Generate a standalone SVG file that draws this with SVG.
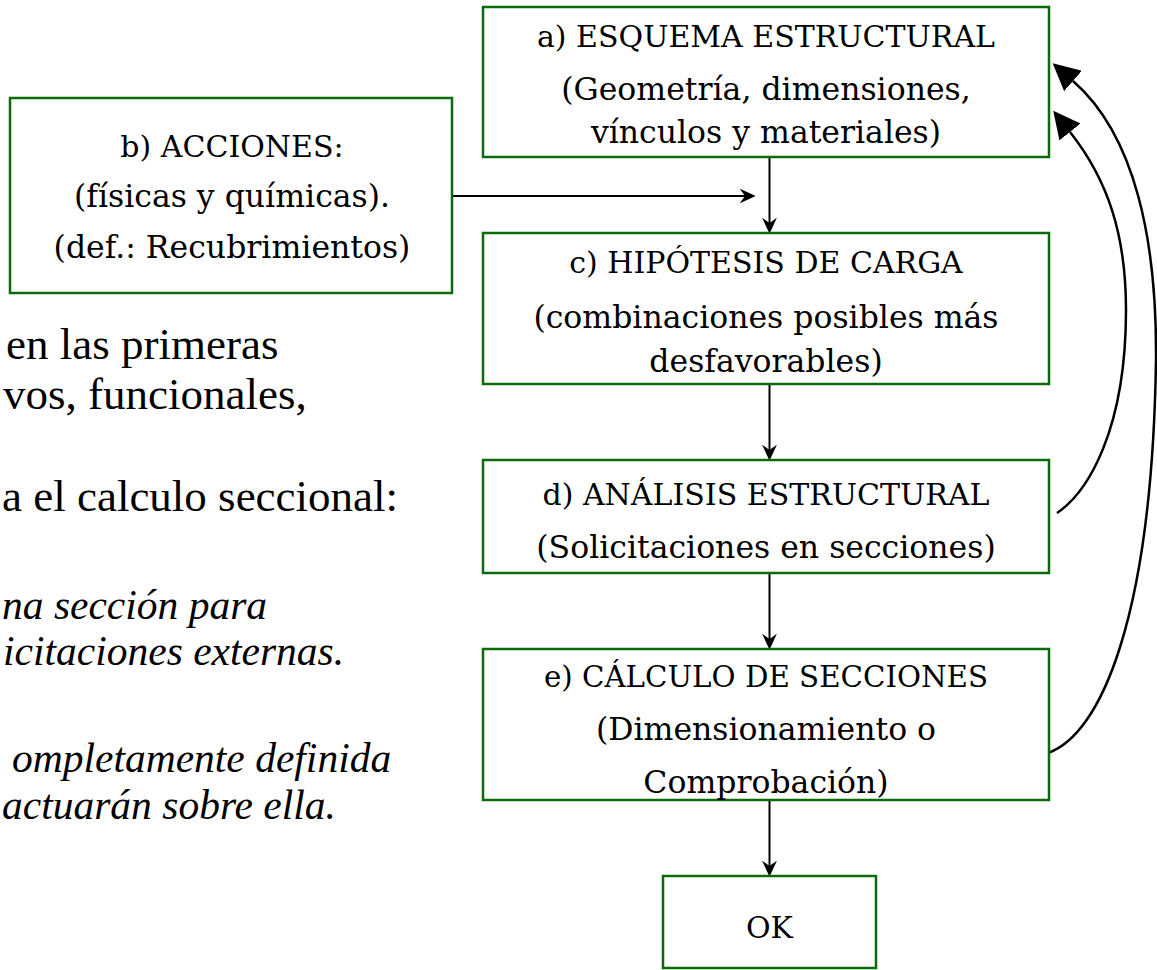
<svg xmlns="http://www.w3.org/2000/svg" width="1157" height="970" viewBox="0 0 1157 970">
<style>
.box{fill:#fff;stroke:#0b6b0b;stroke-width:2.5}
.bt{font-family:"DejaVu Serif","Liberation Serif",serif;font-size:30px;fill:#000;text-anchor:middle}
.bs{font-family:"DejaVu Serif","Liberation Serif",serif;font-size:31.5px;fill:#000;text-anchor:middle}
.lt{font-family:"Liberation Serif","Times New Roman",serif;font-size:45px;fill:#000}
.it{font-family:"Liberation Serif","Times New Roman",serif;font-size:41.5px;font-style:italic;fill:#000}
.ln{fill:none;stroke:#000;stroke-width:2}
.cv{fill:none;stroke:#000;stroke-width:2.5}
</style>
<defs>
<marker id="st" markerUnits="userSpaceOnUse" markerWidth="16" markerHeight="16" viewBox="-15 -7 15 14" refX="-10" refY="0" orient="auto"><path d="M0,0 L-15,-7 L-10,0 L-15,7 Z" fill="#000"/></marker>
<marker id="tri" markerUnits="userSpaceOnUse" markerWidth="27" markerHeight="27" viewBox="0 -13 26 26" refX="0" refY="0" orient="auto"><path d="M0,-13 L26,0 L0,13 Z" fill="#000"/></marker>
</defs>
<rect width="1157" height="970" fill="#fff"/>
<g id="bodytext">
<text class="lt" x="6" y="359">en las primeras</text>
<text class="lt" x="3" y="409">vos, funcionales,</text>
<text class="lt" x="2" y="511">a el calculo seccional:</text>
<text class="it" x="2" y="619">na sección para</text>
<text class="it" x="3" y="665">icitaciones externas.</text>
<text class="it" x="12" y="772">ompletamente definida</text>
<text class="it" x="2" y="819">actuarán sobre ella.</text>
</g>
<g id="connectors">
<path class="ln" d="M452,196 H745" marker-end="url(#st)"/>
<path class="ln" d="M769.5,157 V223" marker-end="url(#st)"/>
<path class="ln" d="M769.5,384 V450" marker-end="url(#st)"/>
<path class="ln" d="M769.5,573 V639" marker-end="url(#st)"/>
<path class="ln" d="M769.5,800 V866" marker-end="url(#st)"/>
<path class="cv" d="M1048,753 C1100,735 1152,620 1156,360 C1157,240 1135,135 1073,81" marker-end="url(#tri)"/>
<path class="cv" d="M1057,513 C1088,492 1126,430 1126,310 C1126,235 1108,180 1070,132" marker-end="url(#tri)"/>
</g>
<g id="node-a">
<rect class="box" x="483" y="7" width="566" height="150"/>
<text class="bt" x="766" y="47">a) ESQUEMA ESTRUCTURAL</text>
<text class="bs" x="766" y="100">(Geometría, dimensiones,</text>
<text class="bs" x="766" y="143">vínculos y materiales)</text>
</g>
<g id="node-b">
<rect class="box" x="10" y="98" width="442" height="195"/>
<text class="bt" x="232" y="157">b) ACCIONES:</text>
<text class="bs" x="232" y="207">(físicas y químicas).</text>
<text class="bs" x="232" y="258">(def.: Recubrimientos)</text>
</g>
<g id="node-c">
<rect class="box" x="483" y="233" width="566" height="151"/>
<text class="bt" x="766" y="273">c) HIPÓTESIS DE CARGA</text>
<text class="bs" x="766" y="328">(combinaciones posibles más</text>
<text class="bs" x="766" y="372">desfavorables)</text>
</g>
<g id="node-d">
<rect class="box" x="483" y="460" width="566" height="113"/>
<text class="bt" x="766" y="505">d) ANÁLISIS ESTRUCTURAL</text>
<text class="bs" x="766" y="558">(Solicitaciones en secciones)</text>
</g>
<g id="node-e">
<rect class="box" x="483" y="649" width="566" height="151"/>
<text class="bt" x="766" y="687" style="font-size:29.3px">e) CÁLCULO DE SECCIONES</text>
<text class="bs" x="766" y="740">(Dimensionamiento o</text>
<text class="bs" x="766" y="793">Comprobación)</text>
</g>
<g id="node-ok">
<rect class="box" x="663" y="876" width="213" height="92"/>
<text class="bt" x="769.5" y="938">OK</text>
</g>
</svg>
